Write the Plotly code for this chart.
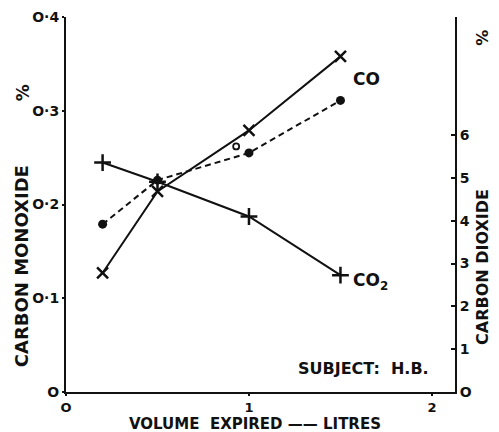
import plotly.graph_objects as go

# Data
volume = [0.2, 0.5, 1.0, 1.5]
co_dots = [0.179, 0.226, 0.255, 0.311]        # CO %, dashed line (left axis)
co_crosses = [0.127, 0.214, 0.279, 0.358]     # X markers, solid line (left axis)
co2_plus = [5.36, 4.91, 4.10, 2.73]           # CO2 %, plus markers (right axis)
stray_x = [0.93]
stray_y = [0.262]

left_ticks = [0, 0.1, 0.2, 0.3, 0.4]
left_ticktext = ["O", "O·1", "O·2", "O·3", "O·4"]
right_ticks = [0, 1, 2, 3, 4, 5, 6]
right_ticktext = ["O", "1", "2", "3", "4", "5", "6"]
x_ticks = [0, 1, 2]
x_ticktext = ["O", "1", "2"]

FONT = "DejaVu Sans"
BLACK = "#111111"

fig = go.Figure()

fig.add_trace(go.Scatter(
    x=volume, y=co_crosses, mode="lines+markers",
    line=dict(color=BLACK, width=2),
    marker=dict(symbol="x-thin-open", size=11, color=BLACK, line=dict(color=BLACK, width=2.5)),
    showlegend=False))

fig.add_trace(go.Scatter(
    x=volume, y=co_dots, mode="lines+markers",
    line=dict(color=BLACK, width=2, dash="6px,4px"),
    marker=dict(symbol="circle", size=9, color=BLACK),
    showlegend=False))

fig.add_trace(go.Scatter(
    x=volume, y=co2_plus, mode="lines+markers", yaxis="y2",
    line=dict(color=BLACK, width=2),
    marker=dict(symbol="cross-thin-open", size=12, color=BLACK, line=dict(color=BLACK, width=2.5)),
    showlegend=False))

fig.add_trace(go.Scatter(
    x=stray_x, y=stray_y, mode="markers",
    marker=dict(symbol="circle-open", size=6, color=BLACK, line=dict(color=BLACK, width=1.8)),
    showlegend=False))

tickfont = dict(family=FONT, size=14, color=BLACK, weight="bold")
xtickfont = dict(family=FONT, size=13, color=BLACK, weight="bold")

fig.update_layout(
    width=499, height=432,
    margin=dict(l=66, r=44, t=17, b=40, autoexpand=False),
    paper_bgcolor="white", plot_bgcolor="white",
    xaxis=dict(range=[0, 2.126], tickvals=x_ticks, ticktext=x_ticktext,
               showgrid=False, zeroline=False, showline=True, linecolor=BLACK,
               linewidth=2, ticks="outside", ticklen=2, tickwidth=2, tickcolor=BLACK,
               tickfont=xtickfont, automargin=False),
    yaxis=dict(range=[0, 0.4], tickvals=left_ticks, ticktext=left_ticktext,
               showgrid=False, zeroline=False, showline=True, linecolor=BLACK,
               linewidth=2, ticks="outside", ticklen=2, tickwidth=2, tickcolor=BLACK,
               tickfont=tickfont, automargin=False),
    yaxis2=dict(range=[0, 8.76], overlaying="y", side="right",
                tickvals=right_ticks, ticktext=right_ticktext,
                showgrid=False, zeroline=False, showline=True, linecolor=BLACK,
                linewidth=2, ticks="inside", ticklen=4, tickwidth=2, tickcolor=BLACK,
                tickfont=tickfont, automargin=False),
)


def label(text, x, y, size, angle=0, xref="paper", yref="paper"):
    fig.add_annotation(text=text, x=x, y=y, xref=xref, yref=yref, textangle=angle,
                       xanchor="center", yanchor="middle", showarrow=False,
                       font=dict(family=FONT, size=size, color=BLACK, weight="bold"))


label("CARBON MONOXIDE", -0.1135, 0.335, 18, -90)
label("%", -0.110, 0.797, 17, -90)
label("CARBON DIOXIDE", 1.069, 0.333, 16, -90)
label("%", 1.069, 0.944, 16, -90)
label("VOLUME  EXPIRED —— LITRES", 0.486, -0.086, 15)
label("SUBJECT:  H.B.", 0.766, 0.064, 16)
label("CO", 1.64, 0.334, 17, xref="x", yref="y")
label("CO<sub>2</sub>", 1.665, 0.118, 17, xref="x", yref="y")

fig.write_html("out.html", config={"displayModeBar": False},
               post_script="document.body.style.margin='0';")
